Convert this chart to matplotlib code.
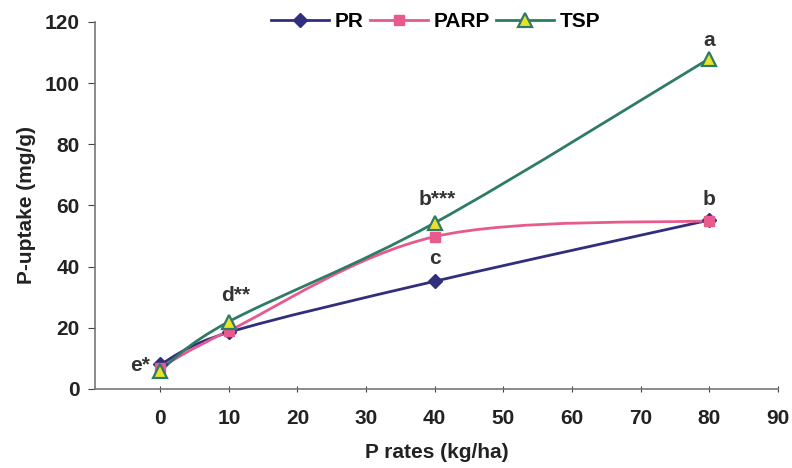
import numpy as np
import matplotlib
matplotlib.use("Agg")
import matplotlib.pyplot as plt
from matplotlib.path import Path
from matplotlib.patches import PathPatch
from matplotlib.lines import Line2D

plt.rcParams['font.family'] = ['Liberation Sans', 'DejaVu Sans']

rates = [0, 10, 40, 80]
pr = [8, 18.5, 35.2, 55.2]
parp = [7, 19, 49.8, 55]
tsp = [6, 22, 54.3, 108]
series_names = ["PR", "PARP", "TSP"]
letters = ["e*", "d**", "b***", "a", "c", "b"]

colors = {"PR": "#2f2f7d", "PARP": "#e85a8e", "TSP": "#2e7b67"}
FS = 15


def smooth_path(x, y):
    pts = np.column_stack([x, y]).astype(float)
    n = len(pts)
    verts = [pts[0]]
    codes = [Path.MOVETO]
    for i in range(n - 1):
        p0 = pts[i - 1] if i > 0 else pts[i]
        p1 = pts[i]
        p2 = pts[i + 1]
        p3 = pts[i + 2] if i + 2 < n else pts[i + 1]
        c1 = p1 + (p2 - p0) / 6.0
        c2 = p2 - (p3 - p1) / 6.0
        verts += [c1, c2, p2]
        codes += [Path.CURVE4] * 3
    return Path(verts, codes)


fig = plt.figure(figsize=(7.92, 4.68), dpi=100)
ax = fig.add_axes([0.12, 0.169, 0.862, 0.784])

styles = {
    "PR": dict(marker="D", ms=7.5, mfc=colors["PR"], mec=colors["PR"]),
    "PARP": dict(marker="s", ms=7.5, mfc=colors["PARP"], mec=colors["PARP"]),
    "TSP": dict(marker="^", ms=9.5, mfc="#e8e22a", mec=colors["TSP"], mew=1.6),
}
data = {"PR": pr, "PARP": parp, "TSP": tsp}
handles = []
for name in series_names:
    ys = data[name]
    ax.add_patch(PathPatch(smooth_path(rates, ys), fill=False,
                           edgecolor=colors[name], lw=2, zorder=2))
    ax.plot(rates, ys, ls="none", zorder=3, **styles[name])
    handles.append(Line2D([], [], color=colors[name], lw=2, **styles[name]))

tc = "#333333"
ax.text(-2.9, 7.8, letters[0], ha="center", va="center", fontsize=FS, fontweight="bold", color=tc)
ax.text(11.0, 30.7, letters[1], ha="center", va="center", fontsize=FS, fontweight="bold", color=tc)
ax.text(40.3, 62, letters[2], ha="center", va="center", fontsize=FS, fontweight="bold", color=tc)
ax.text(80, 114, letters[3], ha="center", va="center", fontsize=FS, fontweight="bold", color=tc)
ax.text(40, 42.5, letters[4], ha="center", va="center", fontsize=FS, fontweight="bold", color=tc)
ax.text(80, 62, letters[5], ha="center", va="center", fontsize=FS, fontweight="bold", color=tc)

ax.set_xlim(-9.5, 90)
ax.set_ylim(0, 120)
ax.set_xticks(np.arange(0, 91, 10))
ax.set_yticks(np.arange(0, 121, 20))
ax.tick_params(axis="x", direction="inout", length=5, labelsize=FS, pad=12, colors="#444444", labelcolor="#222222")
ax.tick_params(axis="y", direction="out", length=5, labelsize=FS, pad=6, colors="#444444", labelcolor="#222222")
for lbl in ax.get_xticklabels() + ax.get_yticklabels():
    lbl.set_fontweight("bold")
for s in ["top", "right"]:
    ax.spines[s].set_visible(False)
for s in ["left", "bottom"]:
    ax.spines[s].set_color("#777777")
    ax.spines[s].set_linewidth(1.2)

ax.set_xlabel("P rates (kg/ha)", fontsize=FS, fontweight="bold", color="#222222", labelpad=11)
ax.set_ylabel("P-uptake (mg/g)", fontsize=FS, fontweight="bold", color="#222222", labelpad=6)

fig.legend(handles, series_names, loc="center", bbox_to_anchor=(0.55, 0.953), ncol=3,
           frameon=False, prop={"weight": "bold", "size": FS},
           handlelength=2.8, columnspacing=0.3, handletextpad=0.25)

fig.savefig("out.png", dpi=100, facecolor="white")
